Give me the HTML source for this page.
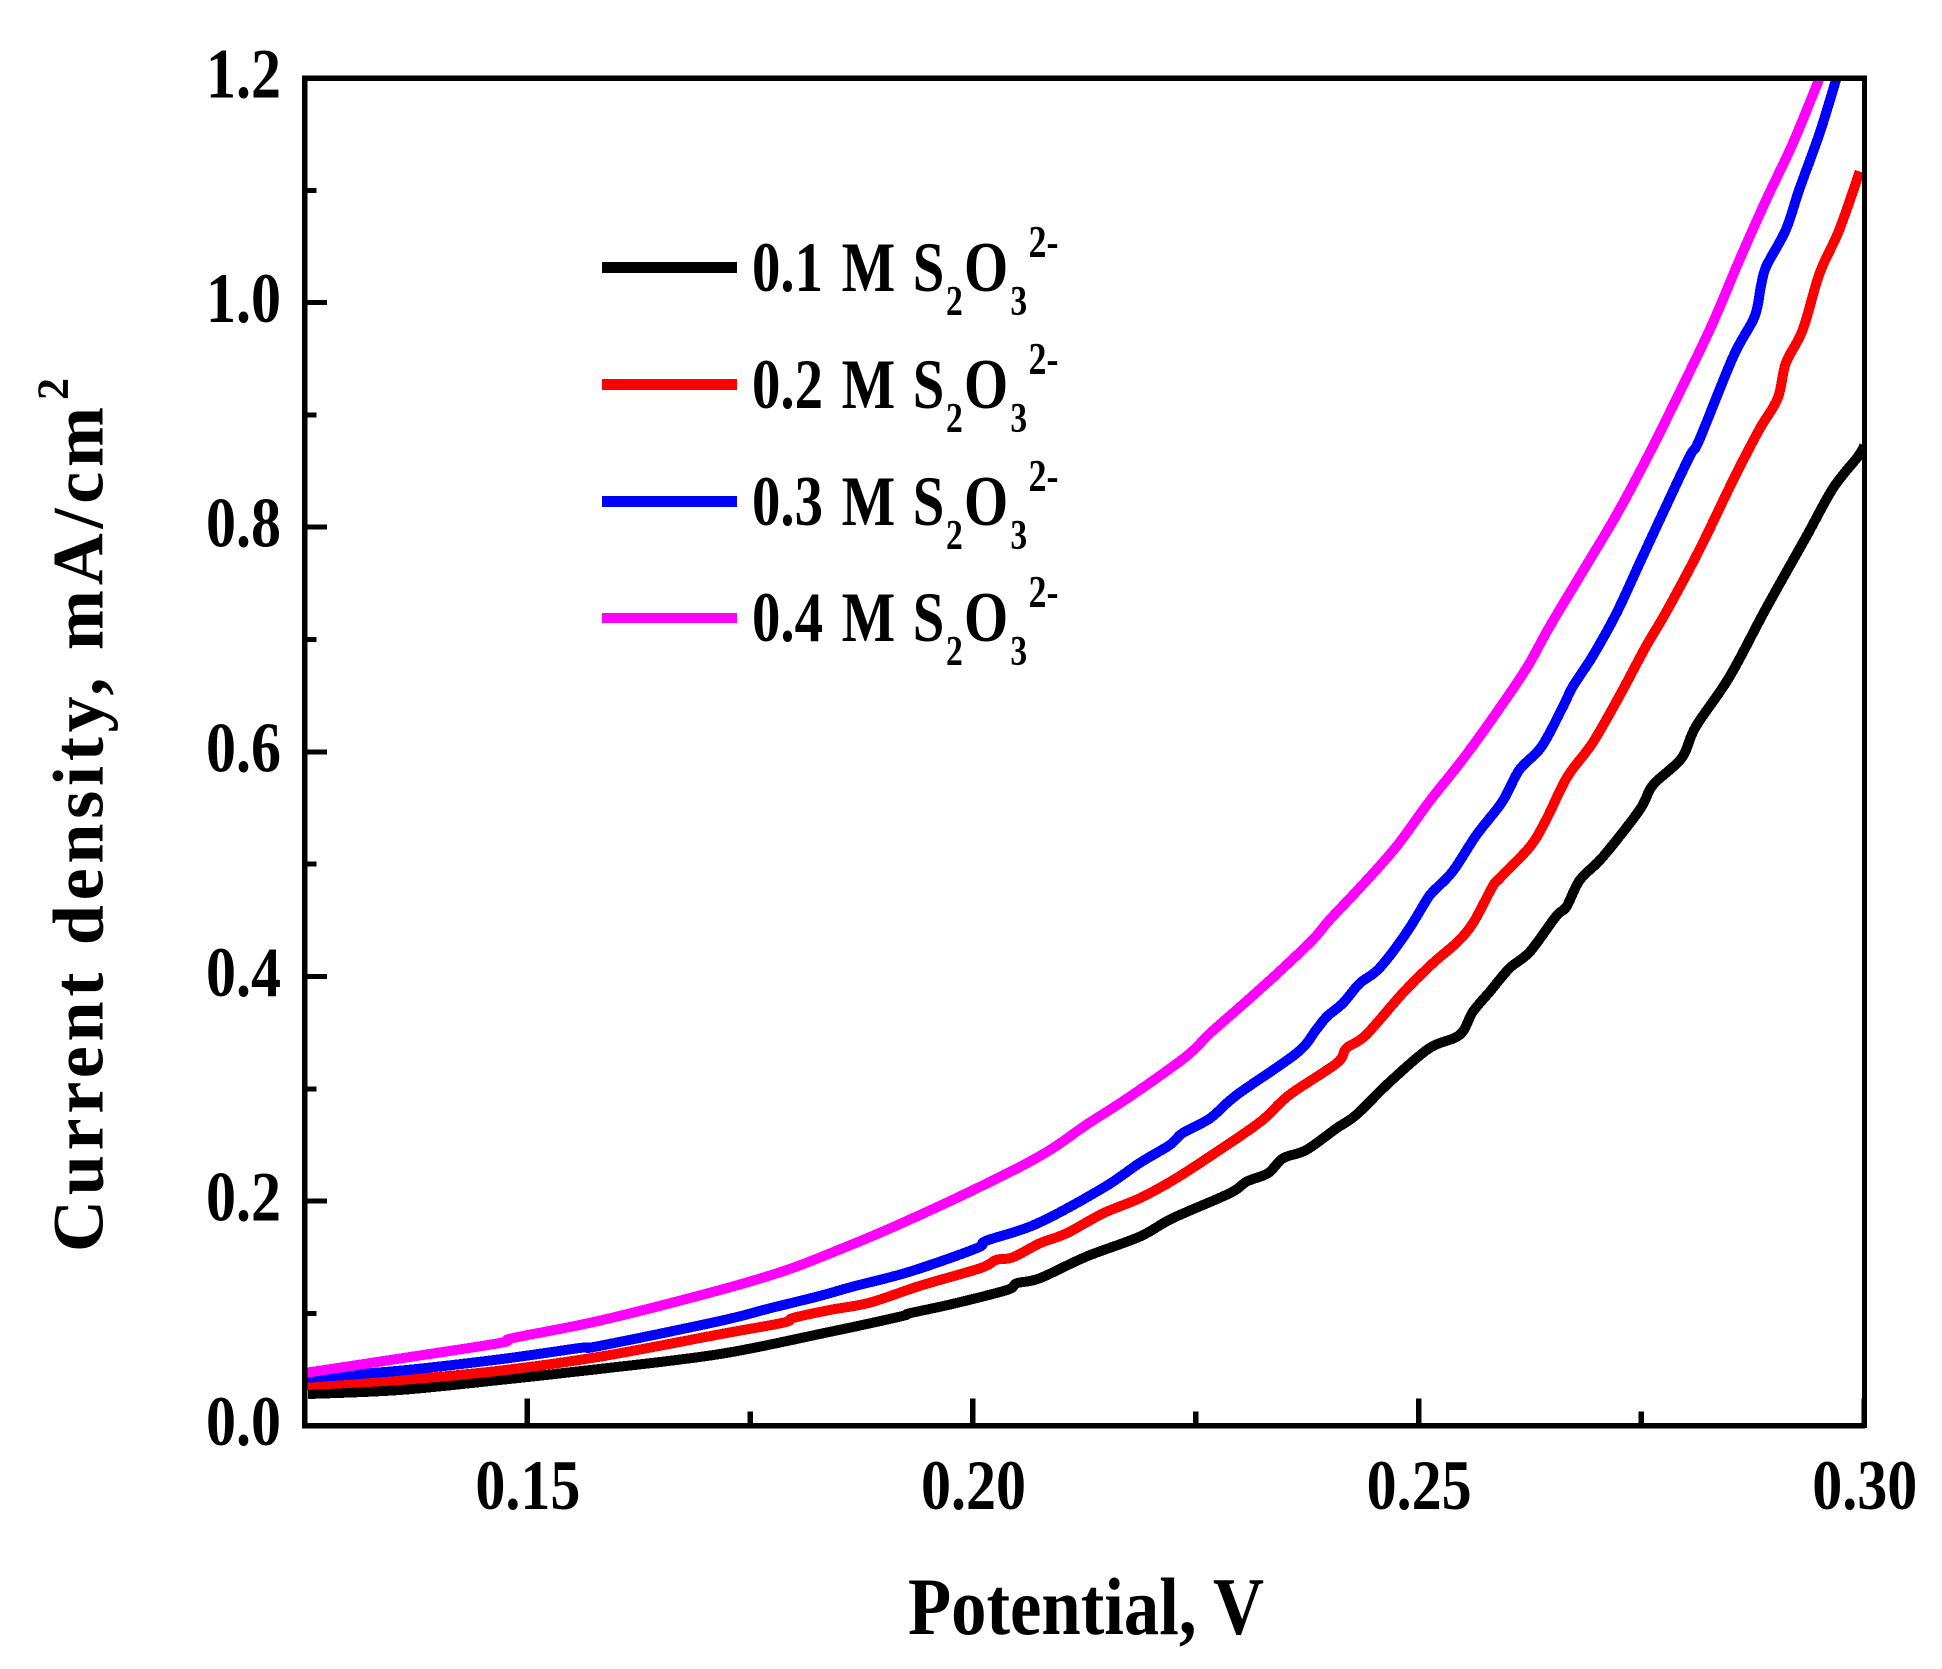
<!DOCTYPE html>
<html lang="en">
<head>
<meta charset="utf-8">
<title>Current density vs potential</title>
<style>
html,body{margin:0;padding:0;background:#fff;width:1942px;height:1669px;overflow:hidden}
svg{display:block}
text{font-family:"Liberation Serif","Times New Roman",serif;font-weight:bold;fill:#000}
</style>
</head>
<body>
<svg id="chart" xmlns="http://www.w3.org/2000/svg" width="1942" height="1669" viewBox="0 0 1942 1669">
  <defs><clipPath id="plot-clip"><rect x="304.5" y="78" width="1560" height="1347.7"/></clipPath></defs>
  <g id="series-layer" clip-path="url(#plot-clip)"></g>
  <g id="axis-layer"></g>

  <text x="908" y="1634" font-size="82" textLength="356" lengthAdjust="spacingAndGlyphs">Potential, V</text>
  <text transform="translate(102.7,1252) rotate(-90)" font-size="72" textLength="845" lengthAdjust="spacing">Current density, mA/cm</text>
  <text transform="translate(67.3,400) rotate(-90)" font-size="44">2</text>

  <g>
    <g>
      <rect x="602" y="262" width="135" height="11" fill="#000"/>
      <text transform="translate(0,291) scale(.8,1)" font-size="71"><tspan x="940" y="0">0.1</tspan><tspan x="1052" y="0">M</tspan><tspan x="1141" y="0">S</tspan><tspan x="1182.5" y="24" font-size="42">2</tspan><tspan x="1205" y="0">O</tspan><tspan x="1263" y="24" font-size="42">3</tspan><tspan x="1285.6" y="-34" font-size="45">2-</tspan></text>
    </g>
    <g>
      <rect x="602" y="379" width="135" height="11" fill="#f00"/>
      <text transform="translate(0,408) scale(.8,1)" font-size="71"><tspan x="940" y="0">0.2</tspan><tspan x="1052" y="0">M</tspan><tspan x="1141" y="0">S</tspan><tspan x="1182.5" y="24" font-size="42">2</tspan><tspan x="1205" y="0">O</tspan><tspan x="1263" y="24" font-size="42">3</tspan><tspan x="1285.6" y="-34" font-size="45">2-</tspan></text>
    </g>
    <g>
      <rect x="602" y="496" width="135" height="11" fill="#00f"/>
      <text transform="translate(0,525) scale(.8,1)" font-size="71"><tspan x="940" y="0">0.3</tspan><tspan x="1052" y="0">M</tspan><tspan x="1141" y="0">S</tspan><tspan x="1182.5" y="24" font-size="42">2</tspan><tspan x="1205" y="0">O</tspan><tspan x="1263" y="24" font-size="42">3</tspan><tspan x="1285.6" y="-34" font-size="45">2-</tspan></text>
    </g>
    <g>
      <rect x="602" y="613" width="135" height="10" fill="#f0f"/>
      <text transform="translate(0,641) scale(.8,1)" font-size="71"><tspan x="940" y="0">0.4</tspan><tspan x="1052" y="0">M</tspan><tspan x="1141" y="0">S</tspan><tspan x="1182.5" y="24" font-size="42">2</tspan><tspan x="1205" y="0">O</tspan><tspan x="1263" y="24" font-size="42">3</tspan><tspan x="1285.6" y="-34" font-size="45">2-</tspan></text>
    </g>
  </g>
</svg>
<script>
// Axis ranges and ticks
const xDomain = [0.125, 0.30];
const yDomain = [0, 1.2];
const xMajorTicks = [0.15, 0.20, 0.25, 0.30];
const xTickLabels = ["0.15", "0.20", "0.25", "0.30"];
const xMinorTicks = [0.175, 0.225, 0.275];
const yMajorTicks = [0, 0.2, 0.4, 0.6, 0.8, 1.0, 1.2];
const yTickLabels = ["0.0", "0.2", "0.4", "0.6", "0.8", "1.0", "1.2"];
const yMinorTicks = [0.1, 0.3, 0.5, 0.7, 0.9, 1.1];

// 0.1 M series
const potential01 = [.1254,.1357,.1469,.1581,.1716,.1832,.1918,.1929,.1977,.2038,.2049,.2075,.2127,.2187,.2224,.2288,.2307,.2331,.2348,.2374,.2408,.2430,.2468,.2512,.2546,.2561,.2580,.2602,.2625,.2654,.2666,.2681,.2707,.2748,.2763,.2795,.2811,.2849,.2890,.2935,.2965,.2993,.3000];
const current01 = [.0282,.0318,.0407,.0505,.0638,.0823,.0971,.1001,.1084,.1208,.1268,.1313,.1505,.1683,.1847,.2069,.2173,.2248,.2381,.2455,.2648,.2767,.3063,.3361,.3479,.3687,.3865,.4073,.4221,.4533,.4622,.4859,.5067,.5483,.5705,.5943,.6224,.6670,.7279,.7916,.8347,.8629,.8724];
// 0.2 M series
const potential02 = [.1250,.1357,.1469,.1581,.1716,.1787,.1798,.1839,.1884,.1940,.2008,.2026,.2045,.2075,.2105,.2146,.2187,.2228,.2288,.2325,.2355,.2408,.2419,.2441,.2482,.2516,.2542,.2561,.2583,.2591,.2625,.2643,.2667,.2695,.2725,.2755,.2778,.2815,.2853,.2882,.2903,.2912,.2931,.2950,.2972,.2995];
const current02 = [.0362,.0407,.0490,.0614,.0814,.0917,.0959,.1030,.1095,.1244,.1402,.1476,.1500,.1624,.1713,.1891,.2025,.2203,.2515,.2722,.2945,.3227,.3361,.3479,.3850,.4118,.4296,.4474,.4800,.4874,.5156,.5394,.5779,.6077,.6492,.6937,.7248,.7798,.8421,.8866,.9149,.9460,.9757,1.0262,1.0647,1.1167];
// 0.3 M series
const potential03 = [.1250,.1357,.1469,.1559,.1581,.1716,.1772,.1828,.1865,.1929,.2004,.2015,.2071,.2146,.2187,.2221,.2235,.2266,.2296,.2363,.2385,.2397,.2415,.2434,.2456,.2486,.2509,.2516,.2538,.2565,.2594,.2613,.2638,.2662,.2673,.2695,.2722,.2748,.2774,.2804,.2815,.2853,.2877,.2884,.2890,.2912,.2927,.2950,.2969,.2978];
const current03 = [.0425,.0490,.0591,.0692,.0710,.0932,.1045,.1155,.1238,.1371,.1580,.1647,.1796,.2117,.2339,.2500,.2604,.2737,.2945,.3316,.3524,.3642,.3761,.3939,.4073,.4385,.4681,.4755,.4933,.5260,.5557,.5839,.6046,.6402,.6581,.6848,.7234,.7680,.8125,.8629,.8778,.9519,.9875,1.0142,1.0321,1.0647,1.1004,1.1509,1.2001,1.2250];
// 0.4 M series
const potential04 = [.1250,.1357,.1469,.1484,.1581,.1716,.1791,.1851,.1903,.1977,.2053,.2090,.2127,.2176,.2239,.2266,.2307,.2344,.2381,.2400,.2437,.2475,.2512,.2549,.2583,.2621,.2647,.2684,.2722,.2759,.2796,.2830,.2860,.2890,.2920,.2950,.2962];
const current04 = [.0469,.0598,.0736,.0781,.0935,.1208,.1386,.1571,.1743,.2010,.2306,.2473,.2678,.2930,.3286,.3494,.3780,.4045,.4325,.4503,.4815,.5156,.5557,.5928,.6299,.6744,.7115,.7605,.8110,.8659,.9252,.9817,1.0380,1.0915,1.1420,1.2001,1.2250];

const seriesNames = ["series-0-1m", "series-0-2m", "series-0-3m", "series-0-4m"];
const seriesColors = ["#000000", "#ff0000", "#0000ff", "#ff00ff"];
const seriesX = [potential01, potential02, potential03, potential04];
const seriesY = [current01, current02, current03, current04];

const plot = {left: 304.5, right: 1864.2, top: 78, bottom: 1425.7};
const xScale = v => plot.left + (v - xDomain[0]) / (xDomain[1] - xDomain[0]) * (plot.right - plot.left);
const yScale = v => plot.bottom - (v - yDomain[0]) / (yDomain[1] - yDomain[0]) * (plot.bottom - plot.top);
const NS = "http://www.w3.org/2000/svg";
const seriesLayer = document.getElementById("series-layer");
const axisLayer = document.getElementById("axis-layer");

// Smooth path through the data points (Catmull-Rom segments)
function smoothPath(xs, ys) {
  const pts = xs.map((v, k) => [xScale(v), yScale(ys[k])]);
  let d = "M" + pts[0][0].toFixed(2) + " " + pts[0][1].toFixed(2);
  for (let k = 0; k < pts.length - 1; k++) {
    const p0 = pts[Math.max(k - 1, 0)];
    const p1 = pts[k];
    const p2 = pts[k + 1];
    const p3 = pts[Math.min(k + 2, pts.length - 1)];
    const c1x = p1[0] + (p2[0] - p0[0]) / 6;
    const c1y = p1[1] + (p2[1] - p0[1]) / 6;
    const c2x = p2[0] - (p3[0] - p1[0]) / 6;
    const c2y = p2[1] - (p3[1] - p1[1]) / 6;
    d += " C" + c1x.toFixed(2) + " " + c1y.toFixed(2) + " " + c2x.toFixed(2) + " " + c2y.toFixed(2) + " " + p2[0].toFixed(2) + " " + p2[1].toFixed(2);
  }
  return d;
}

seriesNames.forEach((name, i) => {
  const path = document.createElementNS(NS, "path");
  path.setAttribute("d", smoothPath(seriesX[i], seriesY[i]));
  path.setAttribute("fill", "none");
  path.setAttribute("stroke", seriesColors[i]);
  path.setAttribute("stroke-width", "10");
  path.setAttribute("stroke-linejoin", "round");
  path.setAttribute("shape-rendering", "crispEdges");
  
  
  seriesLayer.appendChild(path);
});

function addLine(x1, y1, x2, y2, w) {
  const l = document.createElementNS(NS, "line");
  l.setAttribute("x1", x1);
  l.setAttribute("y1", y1);
  l.setAttribute("x2", x2);
  l.setAttribute("y2", y2);
  l.setAttribute("stroke", "#000");
  l.setAttribute("stroke-width", w);
  l.setAttribute("shape-rendering", "crispEdges");
  axisLayer.appendChild(l);
  return l;
}

const frameLeft = addLine(plot.left, plot.top - 2.5, plot.left, plot.bottom + 2.5, 5.5);


const frameBottom = addLine(plot.left - 2.5, plot.bottom, plot.right + 1, plot.bottom, 5.5);


const frameTop = addLine(plot.left - 2.5, plot.top, plot.right + 1, plot.top, 5.5);


const frameRight = addLine(plot.right + 0.5, plot.top - 2.5, plot.right + 0.5, plot.bottom + 2.5, 5);



xMajorTicks.forEach((v, i) => {
  const t = addLine(xScale(v), plot.bottom, xScale(v), plot.bottom - 27, 5.5);
  
  
  const label = document.createElementNS(NS, "text");
  label.setAttribute("x", xScale(v) + 0.5);
  label.setAttribute("y", 1509);
  label.setAttribute("font-size", "71");
  label.setAttribute("text-anchor", "middle");
  label.setAttribute("textLength", "105");
  label.setAttribute("lengthAdjust", "spacingAndGlyphs");
  
  
  label.textContent = xTickLabels[i];
  axisLayer.appendChild(label);
});

xMinorTicks.forEach(v => {
  const t = addLine(xScale(v), plot.bottom, xScale(v), plot.bottom - 14, 5.5);
  
  
});

yMajorTicks.forEach((v, i) => {
  const t = addLine(plot.left, yScale(v), plot.left + 22.5, yScale(v), 5);
  
  
  const label = document.createElementNS(NS, "text");
  label.setAttribute("x", 281);
  label.setAttribute("y", yScale(v) + 19.5);
  label.setAttribute("font-size", "71");
  label.setAttribute("text-anchor", "end");
  label.setAttribute("textLength", "75");
  label.setAttribute("lengthAdjust", "spacingAndGlyphs");
  
  
  label.textContent = yTickLabels[i];
  axisLayer.appendChild(label);
});

yMinorTicks.forEach(v => {
  const t = addLine(plot.left, yScale(v), plot.left + 12, yScale(v), 5);
  
  
});
</script>
</body>
</html>
